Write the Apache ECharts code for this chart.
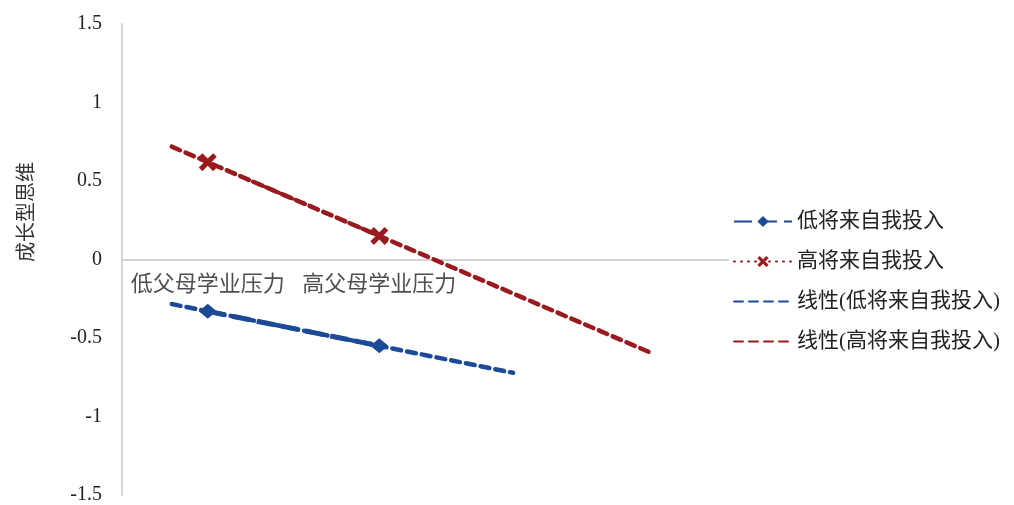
<!DOCTYPE html>
<html>
<head>
<meta charset="utf-8">
<script src="https://cdn.jsdelivr.net/npm/echarts@6/dist/echarts.min.js"></script>
<style>
  html, body { margin: 0; padding: 0; background: #fff; }
  #chart { width: 1014px; height: 505px; }
</style>
</head>
<body>
<div id="chart"></div>
<script>
// Categories on the horizontal axis (plotted at x = 1 and x = 2)
const categories = ['低父母学业压力', '高父母学业压力'];
const categoryX = [1, 2];

// Simple-slope values of 成长型思维
const lowInvest = [-0.33, -0.55];   // 低将来自我投入
const highInvest = [0.62, 0.15];    // 高将来自我投入

// Linear trendline extension (in category units)
const trendBackward = [0.21, 0.21];   // [low, high]
const trendForward = [0.78, 1.6];     // [low, high]

const yTicks = { min: -1.5, max: 1.5, interval: 0.5 };

const BLUE = '#1d4a96';
const RED = '#9a1b1f';
const FONT = '"Liberation Serif", "Noto Sans CJK SC", serif';

// least-squares line through the series, evaluated over the extended range
function trend(values, back, fwd) {
  const n = values.length;
  const mx = categoryX.reduce((a, b) => a + b, 0) / n;
  const my = values.reduce((a, b) => a + b, 0) / n;
  let sxy = 0, sxx = 0;
  for (let i = 0; i < n; i++) {
    sxy += (categoryX[i] - mx) * (values[i] - my);
    sxx += (categoryX[i] - mx) * (categoryX[i] - mx);
  }
  const slope = sxy / sxx;
  const x0 = categoryX[0] - back;
  const x1 = categoryX[n - 1] + fwd;
  return [[x0, my + slope * (x0 - mx)], [x1, my + slope * (x1 - mx)]];
}

const pts = vals => vals.map((v, i) => [categoryX[i], v]);

const starPath = 'path://M2,0 L5,3 L8,0 L10,2 L7,5 L10,8 L8,10 L5,7 L2,10 L0,8 L3,5 L0,2 Z';

const chart = echarts.init(document.getElementById('chart'), null, { renderer: 'canvas' });

chart.setOption({
  animation: false,
  backgroundColor: '#fff',
  grid: { left: 122, right: 286, top: 24, bottom: 10, outerBoundsMode: 'none', containLabel: false },
  xAxis: {
    type: 'value',
    min: 0.5,
    max: 4.033,
    axisLine: { onZero: true, lineStyle: { color: '#d4d4d4', width: 2 } },
    axisTick: { show: false },
    splitLine: { show: false },
    axisLabel: { show: false }
  },
  yAxis: {
    type: 'value',
    min: yTicks.min,
    max: yTicks.max,
    interval: yTicks.interval,
    axisLine: { show: true, lineStyle: { color: '#d4d4d4', width: 2 } },
    axisTick: { show: false },
    splitLine: { show: false },
    axisLabel: { fontFamily: FONT, fontSize: 20, color: '#222', margin: 20 }
  },
  legend: {
    orient: 'vertical',
    left: 728,
    top: 206,
    itemWidth: 58,
    itemHeight: 14,
    itemGap: 19,
    textStyle: { fontFamily: FONT, fontSize: 21, color: '#222' },
    data: [
      { name: '低将来自我投入' },
      { name: '高将来自我投入' },
      { name: '线性(低将来自我投入)', itemStyle: { opacity: 0 } },
      { name: '线性(高将来自我投入)', itemStyle: { opacity: 0 } }
    ]
  },
  graphic: [{
    type: 'text',
    x: 25,
    y: 212,
    rotation: Math.PI / 2,
    style: {
      text: '成长型思维',
      font: '20px "Noto Sans CJK SC"',
      fill: '#333',
      textAlign: 'center',
      textVerticalAlign: 'middle'
    }
  }],
  series: [
    {
      name: '线性(低将来自我投入)',
      type: 'line',
      data: trend(lowInvest, trendBackward[0], trendForward[0]),
      symbol: 'none',
      z: 2,
      lineStyle: { color: BLUE, width: 4.5, type: [9, 6], cap: 'round' },
      itemStyle: { color: BLUE }
    },
    {
      name: '线性(高将来自我投入)',
      type: 'line',
      data: trend(highInvest, trendBackward[1], trendForward[1]),
      symbol: 'none',
      z: 2,
      lineStyle: { color: RED, width: 4.5, type: [9, 6], cap: 'round' },
      itemStyle: { color: RED }
    },
    {
      name: '低将来自我投入',
      type: 'line',
      data: pts(lowInvest),
      symbol: 'diamond',
      symbolSize: [18, 15],
      z: 3,
      lineStyle: { color: BLUE, width: 5, type: [18, 7] },
      itemStyle: { color: BLUE }
    },
    {
      name: '高将来自我投入',
      type: 'line',
      data: pts(highInvest),
      symbol: starPath,
      symbolSize: 18,
      z: 3,
      lineStyle: { color: RED, width: 4, type: [1, 6], cap: 'round' },
      itemStyle: { color: RED }
    },
    {
      // category names placed just under the zero axis line
      name: 'categoryLabels',
      type: 'scatter',
      data: categoryX.map((x, i) => ({ value: [x, 0], name: categories[i] })),
      symbolSize: 0,
      silent: true,
      z: 1,
      label: {
        show: true,
        position: 'bottom',
        distance: 15,
        formatter: p => p.name,
        fontFamily: FONT,
        fontSize: 22,
        color: '#222'
      }
    }
  ]
});
</script>
</body>
</html>
